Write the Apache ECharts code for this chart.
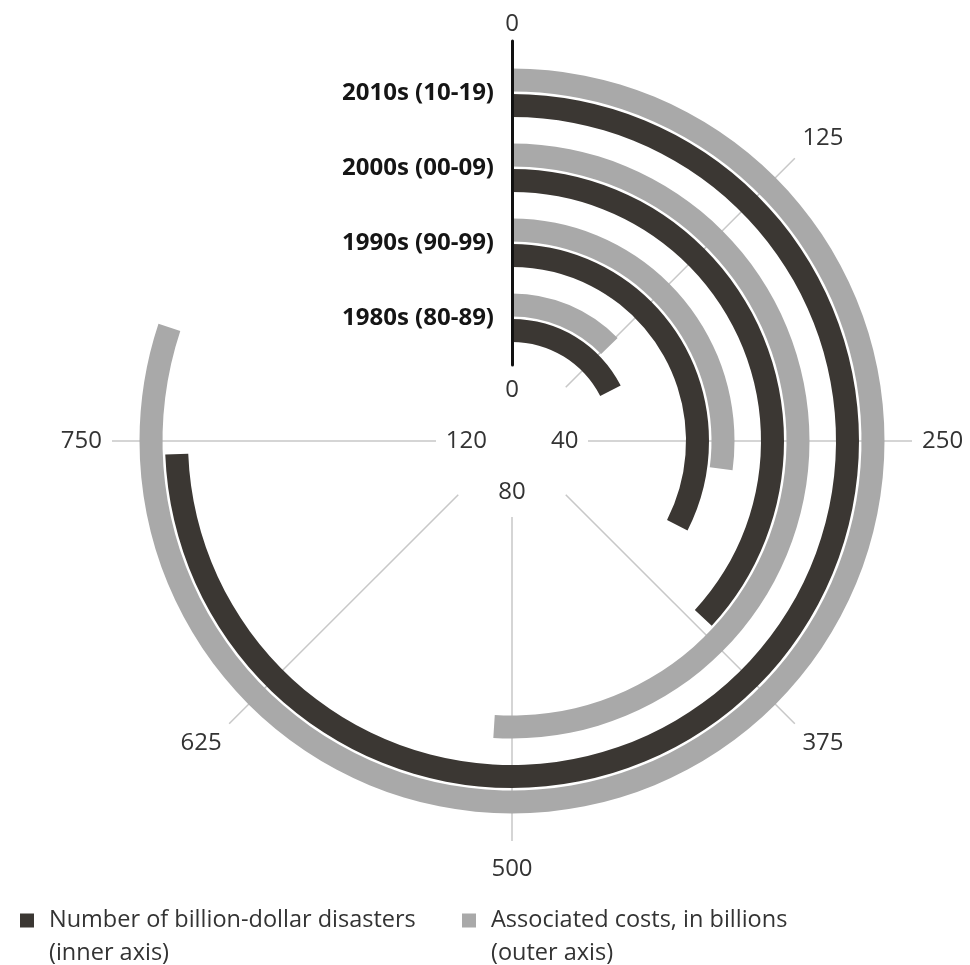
<!DOCTYPE html>
<html>
<head>
<meta charset="utf-8">
<script src="https://cdn.jsdelivr.net/npm/echarts@6/dist/echarts.min.js"></script>
<style>
  html, body { margin: 0; padding: 0; background: #ffffff; }
  #chart { width: 970px; height: 965px; }
</style>
</head>
<body>
<div id="chart"></div>
<script>
// ---- data ----
const decades = ['1980s (80-89)', '1990s (90-99)', '2000s (00-09)', '2010s (10-19)'];
const disasterCounts = [28, 52, 59, 119];        // inner axis
const costsBillions = [127, 271, 510, 801];      // outer axis, billions
const seriesNames = [
  'Number of billion-dollar disasters (inner axis)',
  'Associated costs, in billions (outer axis)'
];
const innerAxisMax = 160;
const innerAxisInterval = 40;
const outerAxisMax = 1000;
const outerTickValues = [0, 125, 250, 375, 500, 625, 750];

// ---- styling ----
const FONT = 'Open Sans';
const DARK = '#3b3733';
const GRAY = '#a9a9a9';
const TEXT = '#333333';
const CENTER = [512, 441];

const chart = echarts.init(document.getElementById('chart'), null, { renderer: 'canvas' });

const legendCommon = {
  orient: 'horizontal',
  icon: 'rect',
  itemWidth: 14,
  itemHeight: 14,
  padding: 0,
  selectedMode: false,
  formatter: function (n) { return '\n' + n.replace(' (', '\n('); },
  textStyle: { fontFamily: FONT, fontSize: 23.5, color: TEXT, lineHeight: 33, padding: [0, 0, 0, 10] }
};

const innerRich = {
  i0: { padding: [0, 0, 14, 0] },
  i40: { padding: [0, 0, 0, 14] },
  i80: { padding: [14, 0, 0, 0] },
  i120: {}
};

const outerRich = {
  o0: {},
  o125: { padding: [0, 0, 4, 4] },
  o250: { padding: [0, 0, 0, 5] },
  o375: { padding: [4, 0, 0, 4] },
  o500: { padding: [11, 0, 0, 0] },
  o625: { padding: [4, 4, 0, 0] },
  o750: { padding: [0, 5, 0, 0] }
};

const option = {
  animation: false,
  backgroundColor: '#ffffff',
  polar: [
    { center: CENTER, radius: [73, 373] },     // 0: disasters (dark)
    { center: CENTER, radius: [98.5, 398.5] }, // 1: costs (gray)
    { center: CENTER, radius: [76, 400] },     // 2: frame / outer axis
    { center: CENTER, radius: [0, 20] },       // 3: inner axis labels
    { center: CENTER, radius: [85, 385] }      // 4: decade labels
  ],
  angleAxis: [
    { polarIndex: 0, type: 'value', min: 0, max: innerAxisMax, show: false },
    { polarIndex: 1, type: 'value', min: 0, max: outerAxisMax, show: false },
    {
      polarIndex: 2, type: 'value', min: 0, max: outerAxisMax,
      axisLine: { show: false },
      axisTick: { show: false, customValues: outerTickValues },
      splitLine: { show: true, lineStyle: { color: '#c8c8c8', width: 1.5 } },
      axisLabel: {
        margin: 5, fontFamily: FONT, fontSize: 24, color: TEXT, customValues: outerTickValues,
        formatter: function (v) { return '{o' + v + '|' + v + '}'; },
        rich: outerRich
      }
    },
    {
      polarIndex: 3, type: 'value', min: 0, max: innerAxisMax, interval: innerAxisInterval,
      axisLine: { show: false }, axisTick: { show: false }, splitLine: { show: false },
      axisLabel: {
        margin: 5, fontFamily: FONT, fontSize: 24, color: TEXT,
        formatter: function (v) { return '{i' + v + '|' + v + '}'; },
        rich: innerRich
      }
    },
    { polarIndex: 4, type: 'value', min: 0, max: innerAxisMax, show: false }
  ],
  radiusAxis: [
    { polarIndex: 0, type: 'category', data: decades, show: false },
    { polarIndex: 1, type: 'category', data: decades, show: false },
    {
      polarIndex: 2, type: 'value', min: 0, max: 1, z: 5,
      axisLine: { show: true, lineStyle: { color: '#111111', width: 3 } },
      axisTick: { show: false }, axisLabel: { show: false }, splitLine: { show: false }
    },
    { polarIndex: 3, type: 'value', min: 0, max: 1, show: false },
    {
      polarIndex: 4, type: 'category', data: decades,
      axisLine: { show: false }, axisTick: { show: false }, splitLine: { show: false },
      axisLabel: {
        interval: 0, hideOverlap: false,
        margin: 18, fontFamily: FONT, fontSize: 24, fontWeight: 'bold', color: '#151515'
      }
    }
  ],
  legend: [
    Object.assign({}, legendCommon, { left: 20, top: 871, data: [seriesNames[0]] }),
    Object.assign({}, legendCommon, { left: 462, top: 871, data: [seriesNames[1]] })
  ],
  series: [
    {
      type: 'bar', name: seriesNames[0], coordinateSystem: 'polar', polarIndex: 0,
      data: disasterCounts, barWidth: 23, itemStyle: { color: DARK }
    },
    {
      type: 'bar', name: seriesNames[1], coordinateSystem: 'polar', polarIndex: 1,
      data: costsBillions, barWidth: 23, itemStyle: { color: GRAY }
    }
  ]
};

chart.setOption(option);
</script>
</body>
</html>
